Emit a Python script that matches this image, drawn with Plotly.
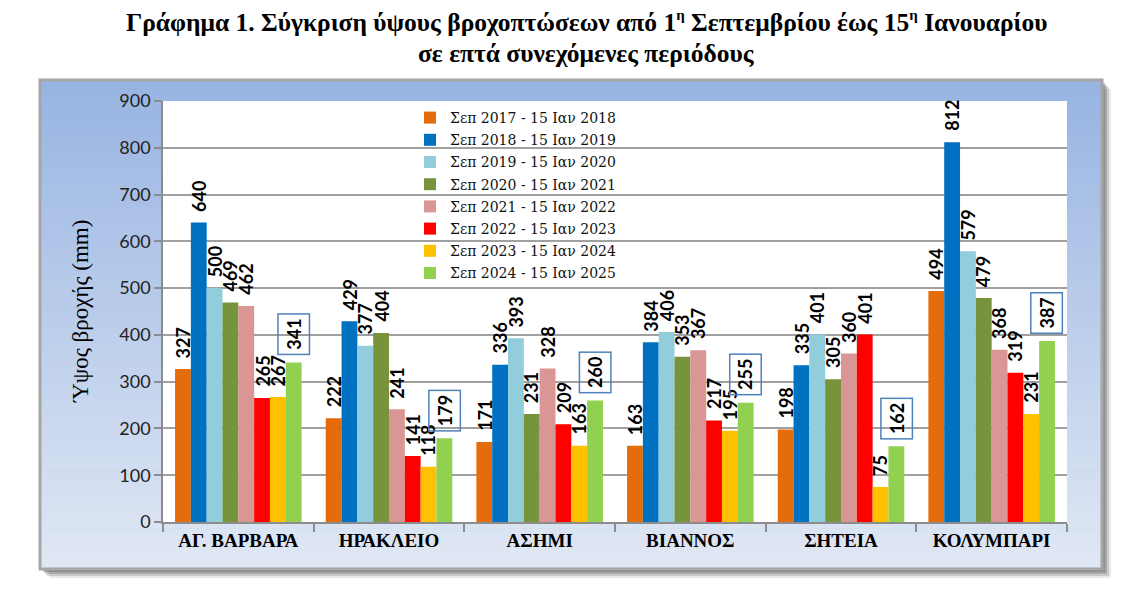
import plotly.graph_objects as go

# ---------------- data ----------------
stations = ["ΑΓ. ΒΑΡΒΑΡΑ", "ΗΡΑΚΛΕΙΟ", "ΑΣΗΜΙ", "ΒΙΑΝΝΟΣ", "ΣΗΤΕΙΑ", "ΚΟΛΥΜΠΑΡΙ"]
periods = [
    "Σεπ 2017 - 15 Ιαν 2018",
    "Σεπ 2018 - 15 Ιαν 2019",
    "Σεπ 2019 - 15 Ιαν 2020",
    "Σεπ 2020 - 15 Ιαν 2021",
    "Σεπ 2021 - 15 Ιαν 2022",
    "Σεπ 2022 - 15 Ιαν 2023",
    "Σεπ 2023 - 15 Ιαν 2024",
    "Σεπ 2024 - 15 Ιαν 2025",
]
rain_2017 = [327, 222, 171, 163, 198, 494]
rain_2018 = [640, 429, 336, 384, 335, 812]
rain_2019 = [500, 377, 393, 406, 401, 579]
rain_2020 = [469, 404, 231, 353, 305, 479]
rain_2021 = [462, 241, 328, 367, 360, 368]
rain_2022 = [265, 141, 209, 217, 401, 319]
rain_2023 = [267, 118, 163, 195, 75, 231]
rain_2024 = [341, 179, 260, 255, 162, 387]
y_tick_values = [0, 100, 200, 300, 400, 500, 600, 700, 800, 900]

series = [rain_2017, rain_2018, rain_2019, rain_2020,
          rain_2021, rain_2022, rain_2023, rain_2024]
colors = ["#E46C0A", "#0070C0", "#92CDDC", "#77933C",
          "#D99694", "#FF0000", "#FFC000", "#92D050"]

# ---------------- layout geometry ----------------
W, H = 1132, 593
ML, MR, MT, MB = 163, 65, 101, 71
PW, PH = W - ML - MR, H - MT - MB
BARGAP = 0.16


def xp(px):
    return (px - ML) / PW


def yp(py):
    return (H - MB - py) / PH


fig = go.Figure()

SANS = "Lato, 'Liberation Sans', sans-serif"
SERIF = "'Liberation Serif', serif"

n = len(series)
for i, (vals, col, name) in enumerate(zip(series, colors, periods)):
    fig.add_trace(go.Bar(
        x=stations, y=vals, name=name,
        marker=dict(color=col, line=dict(width=0)),
        legendgroup=f"g{i}", hoverinfo="x+y+name",
    ))

# value labels (annotations so that they can sit a little above the bars)
bar_w = (1 - BARGAP) / n
annotations = []
for i, vals in enumerate(series):
    off = (i - (n - 1) / 2) * bar_w
    last = (i == n - 1)
    for j, v in enumerate(vals):
        a = dict(
            x=j + off, y=v, xref="x", yref="y",
            text=f"<b>{v}</b>", textangle=-90, showarrow=False,
            xanchor="center", yanchor="bottom",
            font=dict(family=SANS, size=18, color="#000"),
        )
        if last:
            a.update(yshift=7, bordercolor="#4F81BD", borderwidth=1.5, borderpad=4)
        else:
            a.update(yshift=9, borderpad=1)
        annotations.append(a)

# y-axis title
annotations.append(dict(
    x=xp(80), y=yp(312), xref="paper", yref="paper",
    text="Ύψος βροχής (mm)", textangle=-90, showarrow=False,
    xanchor="center", yanchor="middle",
    font=dict(family=SERIF, size=23, color="#000"),
))

# chart title (two lines)
sup = "<sup><span style='font-size:15px'>η</span></sup>"
title_lines = [
    f"Γράφημα 1. Σύγκριση ύψους βροχοπτώσεων από 1{sup} Σεπτεμβρίου έως 15{sup} Ιανουαρίου",
    "σε επτά συνεχόμενες περιόδους",
]
for line, cy in zip(title_lines, [22, 53]):
    annotations.append(dict(
        x=xp(586), y=yp(cy), xref="paper", yref="paper",
        text=f"<b>{line}</b>", showarrow=False,
        xanchor="center", yanchor="middle",
        font=dict(family=SERIF, size=25.5, color="#000"),
    ))

# ---------------- panel background (gradient frame + shadow) ----------------
shapes = []
px0, py0, px1, py1 = 40, 80, 1102, 569
for d, op in [(9, 0.15), (7, 0.25), (5, 0.35), (3, 0.45)]:
    shapes.append(dict(type="rect", xref="paper", yref="paper", layer="below",
                       x0=xp(px0 + d), x1=xp(px1 + d), y0=yp(py0 + d), y1=yp(py1 + d),
                       fillcolor=f"rgba(110,110,110,{op})", line=dict(width=0)))
top_c = (152, 180, 226)
bot_c = (224, 231, 244)
NB = 60
for b in range(NB):
    t = b / (NB - 1)
    c = tuple(round(top_c[k] + (bot_c[k] - top_c[k]) * t) for k in range(3))
    ya = py0 + (py1 - py0) * b / NB
    yb = py0 + (py1 - py0) * (b + 1) / NB + 0.6
    shapes.append(dict(type="rect", xref="paper", yref="paper", layer="below",
                       x0=xp(px0), x1=xp(px1), y0=yp(ya), y1=yp(min(yb, py1)),
                       fillcolor=f"rgb{c}", line=dict(width=0)))
shapes.append(dict(type="rect", xref="paper", yref="paper", layer="below",
                   x0=xp(px0), x1=xp(px1), y0=yp(py0), y1=yp(py1),
                   fillcolor="rgba(0,0,0,0)", line=dict(color="#A6A6A6", width=3)))
shapes.append(dict(type="rect", xref="paper", yref="paper", layer="below",
                   x0=0, x1=1, y0=0, y1=1, fillcolor="#FFFFFF", line=dict(width=0)))

fig.update_layout(
    width=W, height=H,
    margin=dict(l=ML, r=MR, t=MT, b=MB),
    paper_bgcolor="#FFFFFF", plot_bgcolor="#FFFFFF",
    barmode="group", bargap=BARGAP, bargroupgap=0,
    legend=dict(
        x=xp(410), y=yp(102), xanchor="left", yanchor="top",
        bgcolor="rgba(0,0,0,0)", borderwidth=0,
        font=dict(family="'DejaVu Serif', serif", size=14, color="#111"),
        tracegroupgap=1, itemwidth=30,
    ),
    xaxis=dict(
        type="category", showgrid=False,
        ticks="outside", tickson="boundaries", ticklen=8, tickcolor="#8C8C8C", tickwidth=1.5,
        showline=True, linecolor="#8C8C8C", linewidth=1.5,
        tickfont=dict(family=SERIF, size=19, color="#000", weight="bold"),
    ),
    yaxis=dict(
        range=[0, 900], tickvals=y_tick_values,
        showgrid=True, gridcolor="#A0A0A0", gridwidth=1.5,
        ticks="outside", ticklen=7, tickcolor="#8C8C8C", tickwidth=1.5,
        showline=True, linecolor="#8C8C8C", linewidth=1.5,
        zeroline=False,
        tickfont=dict(family=SANS, size=18, color="#222"),
    ),
    shapes=shapes,
    annotations=annotations,
    showlegend=True,
)

fig.write_html("out.html", config={"displayModeBar": False},
               post_script="document.body.style.margin='0';")
